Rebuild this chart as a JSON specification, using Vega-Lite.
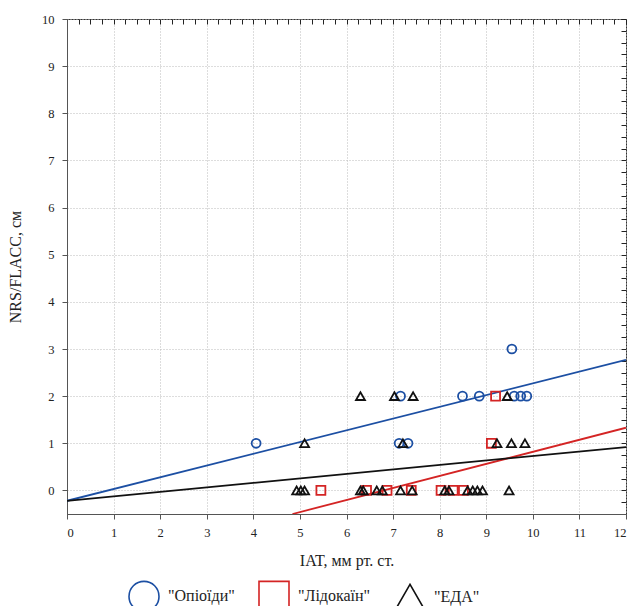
{
  "$schema": "https://vega.github.io/schema/vega-lite/v6.json",
  "width": 559,
  "height": 495,
  "autosize": "none",
  "padding": {"left": 67, "top": 19, "right": 10, "bottom": 92},
  "background": "white",
  "config": {
    "font": "Liberation Serif",
    "view": {"stroke": "#333", "strokeWidth": 1},
    "axis": {"labelFont": "Liberation Serif", "titleFont": "Liberation Serif", "labelColor": "#222", "titleColor": "#222", "titleFontWeight": "normal", "domainColor": "#555", "tickColor": "#555"},
    "legend": {"labelFont": "Liberation Serif"}
  },
  "datasets": {
    "pts": [
      {"iat": 4.06, "nrs": 1, "group": "Опіоїди"},
      {"iat": 7.13, "nrs": 1, "group": "Опіоїди"},
      {"iat": 7.32, "nrs": 1, "group": "Опіоїди"},
      {"iat": 7.16, "nrs": 2, "group": "Опіоїди"},
      {"iat": 8.49, "nrs": 2, "group": "Опіоїди"},
      {"iat": 8.85, "nrs": 2, "group": "Опіоїди"},
      {"iat": 9.6, "nrs": 2, "group": "Опіоїди"},
      {"iat": 9.74, "nrs": 2, "group": "Опіоїди"},
      {"iat": 9.87, "nrs": 2, "group": "Опіоїди"},
      {"iat": 9.55, "nrs": 3, "group": "Опіоїди"},
      {"iat": 5.45, "nrs": 0, "group": "Лідокаїн"},
      {"iat": 6.43, "nrs": 0, "group": "Лідокаїн"},
      {"iat": 6.87, "nrs": 0, "group": "Лідокаїн"},
      {"iat": 7.39, "nrs": 0, "group": "Лідокаїн"},
      {"iat": 8.03, "nrs": 0, "group": "Лідокаїн"},
      {"iat": 8.29, "nrs": 0, "group": "Лідокаїн"},
      {"iat": 8.51, "nrs": 0, "group": "Лідокаїн"},
      {"iat": 9.11, "nrs": 1, "group": "Лідокаїн"},
      {"iat": 9.2, "nrs": 2, "group": "Лідокаїн"},
      {"iat": 4.93, "nrs": 0, "group": "ЕДА"},
      {"iat": 5.02, "nrs": 0, "group": "ЕДА"},
      {"iat": 5.1, "nrs": 0, "group": "ЕДА"},
      {"iat": 6.3, "nrs": 0, "group": "ЕДА"},
      {"iat": 6.36, "nrs": 0, "group": "ЕДА"},
      {"iat": 6.65, "nrs": 0, "group": "ЕДА"},
      {"iat": 6.77, "nrs": 0, "group": "ЕДА"},
      {"iat": 7.16, "nrs": 0, "group": "ЕДА"},
      {"iat": 7.41, "nrs": 0, "group": "ЕДА"},
      {"iat": 8.11, "nrs": 0, "group": "ЕДА"},
      {"iat": 8.2, "nrs": 0, "group": "ЕДА"},
      {"iat": 8.6, "nrs": 0, "group": "ЕДА"},
      {"iat": 8.71, "nrs": 0, "group": "ЕДА"},
      {"iat": 8.81, "nrs": 0, "group": "ЕДА"},
      {"iat": 8.92, "nrs": 0, "group": "ЕДА"},
      {"iat": 9.49, "nrs": 0, "group": "ЕДА"},
      {"iat": 5.1, "nrs": 1, "group": "ЕДА"},
      {"iat": 7.21, "nrs": 1, "group": "ЕДА"},
      {"iat": 9.23, "nrs": 1, "group": "ЕДА"},
      {"iat": 9.54, "nrs": 1, "group": "ЕДА"},
      {"iat": 9.83, "nrs": 1, "group": "ЕДА"},
      {"iat": 6.3, "nrs": 2, "group": "ЕДА"},
      {"iat": 7.03, "nrs": 2, "group": "ЕДА"},
      {"iat": 7.43, "nrs": 2, "group": "ЕДА"},
      {"iat": 9.45, "nrs": 2, "group": "ЕДА"}
    ],
    "fits": [
      {"iat": 0, "nrs": -0.22, "group": "Опіоїди"},
      {"iat": 12, "nrs": 2.77, "group": "Опіоїди"},
      {"iat": 4.84, "nrs": -0.5, "group": "Лідокаїн"},
      {"iat": 12, "nrs": 1.33, "group": "Лідокаїн"},
      {"iat": 0, "nrs": -0.22, "group": "ЕДА"},
      {"iat": 12, "nrs": 0.92, "group": "ЕДА"}
    ]
  },
  "layer": [
    {
      "data": {"name": "fits"},
      "mark": {"type": "line", "strokeWidth": 1.8, "clip": true},
      "encoding": {
        "x": {"field": "iat", "type": "quantitative", "scale": {"domain": [0, 12], "nice": false, "zero": false},
          "axis": {"title": "IAT, мм рт. ст.", "values": [0,1,2,3,4,5,6,7,8,9,10,11,12], "grid": true, "gridDash": [1, 2], "gridColor": "#bbb", "labelFontSize": 12.5, "titleFontSize": 16, "labelPadding": 7, "titlePadding": 14, "tickSize": 5}},
        "y": {"field": "nrs", "type": "quantitative", "scale": {"domain": [-0.5, 10], "nice": false, "zero": false},
          "axis": {"title": "NRS/FLACC, см", "values": [0,1,2,3,4,5,6,7,8,9,10], "grid": true, "gridDash": [1, 2], "gridColor": "#bbb", "labelFontSize": 12.5, "titleFontSize": 16, "labelPadding": 8, "titlePadding": 18, "tickSize": 5}},
        "color": {"field": "group", "type": "nominal", "scale": {"domain": ["Опіоїди", "Лідокаїн", "ЕДА"], "range": ["#1c4fa3", "#d42424", "#111111"]},
          "legend": {"orient": "none", "legendX": 61, "legendY": 561, "direction": "horizontal", "title": null, "labelFont": "Liberation Serif", "labelFontSize": 16, "labelColor": "#222", "symbolSize": 900, "symbolStrokeWidth": 1.6, "columnPadding": 20, "labelOffset": 8,
            "labelExpr": "'\"' + datum.label + '\"'"}},
        "detail": {"field": "group"}
      }
    },
    {
      "data": {"name": "pts"},
      "mark": {"type": "point", "filled": false, "size": 80, "strokeWidth": 1.8, "opacity": 1},
      "encoding": {
        "x": {"field": "iat", "type": "quantitative",
          "axis": {"orient": "top", "title": null, "labels": false, "grid": false, "domain": false, "values": [0,0.25,0.5,0.75,1,1.25,1.5,1.75,2,2.25,2.5,2.75,3,3.25,3.5,3.75,4,4.25,4.5,4.75,5,5.25,5.5,5.75,6,6.25,6.5,6.75,7,7.25,7.5,7.75,8,8.25,8.5,8.75,9,9.25,9.5,9.75,10,10.25,10.5,10.75,11,11.25,11.5,11.75,12], "tickSize": -5, "tickColor": "#222"}},
        "y": {"field": "nrs", "type": "quantitative",
          "axis": {"orient": "right", "title": null, "labels": false, "grid": false, "domain": false, "values": [-0.25,0,0.25,0.5,0.75,1,1.25,1.5,1.75,2,2.25,2.5,2.75,3,3.25,3.5,3.75,4,4.25,4.5,4.75,5,5.25,5.5,5.75,6,6.25,6.5,6.75,7,7.25,7.5,7.75,8,8.25,8.5,8.75,9,9.25,9.5,9.75,10], "tickSize": -5, "tickColor": "#222"}},
        "color": {"field": "group", "type": "nominal"},
        "shape": {"field": "group", "type": "nominal", "scale": {"domain": ["Опіоїди", "Лідокаїн", "ЕДА"], "range": ["circle", "square", "triangle-up"]}, "legend": null}
      }
    }
  ],
  "resolve": {"axis": {"x": "independent", "y": "independent"}}
}
